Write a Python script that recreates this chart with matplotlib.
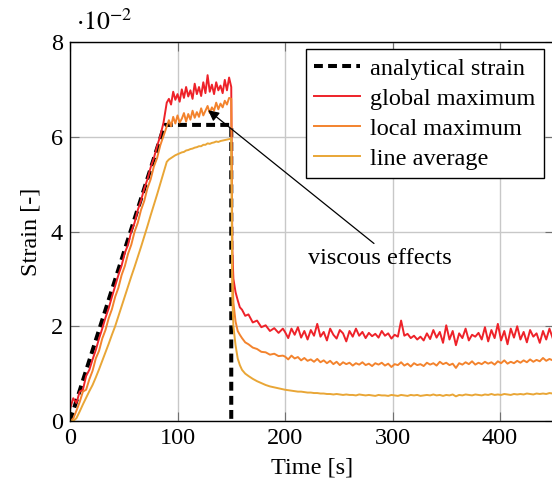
import numpy as np
import matplotlib
matplotlib.use('Agg')
import matplotlib.pyplot as plt

plt.rcParams['font.family'] = ['Liberation Serif', 'DejaVu Serif']
plt.rcParams['mathtext.fontset'] = 'stix'

# Date (strain in units of 1e-2)
t_rise = np.arange(0, 91, 3)
t_hold = np.arange(92, 151, 2)
t_drop = [151, 152, 154, 156, 158, 160, 163, 166, 170, 174, 178, 182, 186, 190, 194, 198]
t_tail = np.arange(200, 450, 3)

analytic_t = [0, 88, 150, 150]
analytic_y = [0, 6.25, 6.25, 0]

red_rise = [0.25, 0.48, 0.38, 0.62, 0.66, 0.95, 1.08, 1.30, 1.50, 1.74,
            1.95, 2.18, 2.38, 2.62, 2.85, 3.08, 3.28, 3.55, 3.72, 4.00,
            4.18, 4.45, 4.65, 4.90, 5.10, 5.35, 5.55, 5.80, 6.02, 6.30,
            6.72]
red_hold = [6.80, 6.68, 6.95, 6.78, 6.90, 6.74, 7.00, 6.82, 7.05, 6.85,
            6.98, 6.80, 7.12, 6.90, 7.05, 6.86, 7.15, 6.92, 7.30, 6.95,
            7.10, 6.90, 7.15, 6.98, 7.08, 6.92, 7.20, 6.98, 7.25, 7.05]
red_drop = [3.60, 3.00, 2.72, 2.55, 2.40, 2.35, 2.22, 2.25, 2.08, 2.12,
            1.98, 2.02, 1.90, 1.96, 1.86, 1.95]
red_tail = [1.88, 1.75, 1.95, 1.82, 1.98, 1.76, 1.90, 1.72, 1.92, 1.80,
            2.05, 1.78, 1.88, 1.70, 1.95, 1.82, 1.74, 1.92, 1.85, 1.68,
            1.90, 1.78, 1.95, 1.80, 1.88, 1.75, 1.86, 1.79, 1.84, 1.76,
            1.90, 1.80, 1.85, 1.74, 1.82, 1.78, 2.12, 1.80, 1.84, 1.75,
            1.80, 1.72, 1.78, 1.70, 1.85, 1.73, 1.92, 1.76, 1.88, 1.65,
            2.02, 1.72, 1.90, 1.60, 1.85, 1.75, 1.95, 1.70, 1.82, 1.78,
            1.86, 1.72, 1.98, 1.68, 1.92, 1.75, 2.05, 1.70, 1.90, 1.62,
            1.95, 1.76, 2.00, 1.72, 1.88, 1.66, 1.92, 1.78, 1.85, 1.65,
            1.90, 1.72, 1.95, 1.75]

orange_rise = [0.00, 0.05, 0.22, 0.40, 0.62, 0.66, 0.88, 1.06, 1.32, 1.48,
               1.74, 1.92, 2.17, 2.36, 2.62, 2.81, 3.08, 3.27, 3.53, 3.72,
               3.99, 4.18, 4.45, 4.64, 4.91, 5.10, 5.37, 5.55, 5.82, 6.02,
               6.22]
orange_hold = [6.35, 6.22, 6.42, 6.28, 6.45, 6.30, 6.38, 6.50, 6.32, 6.48,
               6.36, 6.55, 6.40, 6.52, 6.42, 6.60, 6.45, 6.55, 6.65, 6.50,
               6.62, 6.55, 6.72, 6.58, 6.70, 6.62, 6.76, 6.68, 6.82, 6.80]
orange_drop = [3.20, 2.50, 2.10, 1.90, 1.82, 1.75, 1.66, 1.62, 1.55, 1.52,
               1.46, 1.45, 1.40, 1.42, 1.37, 1.38]
orange_tail = [1.36, 1.30, 1.38, 1.32, 1.35, 1.28, 1.33, 1.27, 1.30, 1.25,
               1.31, 1.24, 1.28, 1.22, 1.27, 1.20, 1.25, 1.18, 1.24, 1.20,
               1.23, 1.17, 1.22, 1.19, 1.24, 1.18, 1.21, 1.16, 1.22, 1.19,
               1.23, 1.17, 1.21, 1.14, 1.20, 1.18, 1.24, 1.17, 1.21, 1.15,
               1.22, 1.18, 1.20, 1.16, 1.23, 1.19, 1.22, 1.17, 1.25, 1.20,
               1.23, 1.18, 1.21, 1.12, 1.22, 1.19, 1.24, 1.20, 1.26, 1.19,
               1.23, 1.20, 1.25, 1.21, 1.24, 1.19, 1.26, 1.22, 1.28, 1.21,
               1.25, 1.22, 1.27, 1.23, 1.28, 1.24, 1.30, 1.25, 1.29, 1.26,
               1.33, 1.27, 1.31, 1.28]

yellow_rise = [0.00, 0.00, 0.06, 0.20, 0.35, 0.49, 0.63, 0.76, 0.92, 1.09,
               1.27, 1.45, 1.63, 1.82, 2.00, 2.21, 2.42, 2.63, 2.84, 3.05,
               3.25, 3.46, 3.67, 3.89, 4.11, 4.34, 4.56, 4.78, 5.01, 5.24,
               5.47]
yellow_hold = [5.52, 5.55, 5.58, 5.61, 5.63, 5.65, 5.67, 5.68, 5.71, 5.72,
               5.74, 5.75, 5.77, 5.78, 5.80, 5.80, 5.83, 5.83, 5.86, 5.85,
               5.87, 5.88, 5.90, 5.89, 5.91, 5.92, 5.93, 5.94, 5.95, 5.96]
yellow_drop = [2.60, 2.00, 1.60, 1.32, 1.18, 1.08, 1.00, 0.95, 0.89, 0.84,
               0.80, 0.76, 0.73, 0.71, 0.69, 0.67]
yellow_tail = [0.66, 0.65, 0.64, 0.63, 0.62, 0.62, 0.61, 0.60, 0.60, 0.59,
               0.59, 0.58, 0.58, 0.57, 0.57, 0.56, 0.57, 0.56, 0.55, 0.56,
               0.55, 0.55, 0.54, 0.56, 0.55, 0.54, 0.55, 0.54, 0.53, 0.55,
               0.54, 0.54, 0.53, 0.55, 0.54, 0.53, 0.55, 0.54, 0.53, 0.55,
               0.54, 0.55, 0.53, 0.54, 0.55, 0.54, 0.56, 0.54, 0.55, 0.53,
               0.55, 0.54, 0.56, 0.52, 0.55, 0.54, 0.56, 0.55, 0.54, 0.56,
               0.55, 0.54, 0.56, 0.55, 0.57, 0.55, 0.56, 0.55, 0.57, 0.56,
               0.55, 0.57, 0.56, 0.57, 0.56, 0.58, 0.57, 0.56, 0.58, 0.57,
               0.58, 0.57, 0.59, 0.58]

t = np.concatenate([t_rise, t_hold, t_drop, t_tail])
red = np.concatenate([red_rise, red_hold, red_drop, red_tail])
orange = np.concatenate([orange_rise, orange_hold, orange_drop, orange_tail])
yellow = np.concatenate([yellow_rise, yellow_hold, yellow_drop, yellow_tail])

FS = 17.5

# Grafic
fig = plt.figure(figsize=(5.52, 4.84), dpi=100)
ax = fig.add_axes([70 / 552, 63 / 484, 483.75 / 552, 379 / 484])

ax.plot(analytic_t, analytic_y, color='k', lw=2.9, ls=(0, (2.2, 1.3)),
        label='analytical strain')
ax.plot(t, red, color='#ee2229', lw=1.4, label='global maximum')
ax.plot(t, orange, color='#f3832d', lw=1.4, label='local maximum')
ax.plot(t, yellow, color='#e9a636', lw=1.4, label='line average')

ax.set_xlim(0, 450)
ax.set_ylim(0, 8)
ax.set_xticks([0, 100, 200, 300, 400])
ax.set_yticks([0, 2, 4, 6, 8])
ax.grid(color='#c8c8c8', lw=1.0)
ax.set_axisbelow(True)
ax.tick_params(direction='in', length=6.5, width=0.8, color='#707070',
               top=True, right=True, labelsize=FS)
ax.tick_params(axis='x', pad=5)
ax.tick_params(axis='y', pad=5)
for s in ax.spines.values():
    s.set_linewidth(1.0)

ax.set_xlabel('Time [s]', fontsize=FS, labelpad=6)
ax.set_ylabel('Strain [-]', fontsize=FS, labelpad=7)
ax.text(0.012, 1.032, r'$\cdot 10^{-2}$', transform=ax.transAxes,
        fontsize=FS + 1, ha='left', va='baseline')

ax.annotate('viscous effects', xy=(128.5, 6.56), xytext=(288, 3.43),
            fontsize=FS, ha='center', va='center',
            arrowprops=dict(arrowstyle='-|>', color='k', lw=0.9,
                            mutation_scale=16, relpos=(0.5, 1.0),
                            shrinkA=2, shrinkB=0))

leg = ax.legend(loc='upper right', bbox_to_anchor=(0.9798, 0.9815),
                borderaxespad=0, fontsize=FS, fancybox=False, framealpha=1,
                edgecolor='k', handlelength=1.9, handletextpad=0.4,
                labelspacing=0.33, borderpad=0.35)
leg.get_frame().set_linewidth(1.0)

fig.savefig('out.png', dpi=100)
